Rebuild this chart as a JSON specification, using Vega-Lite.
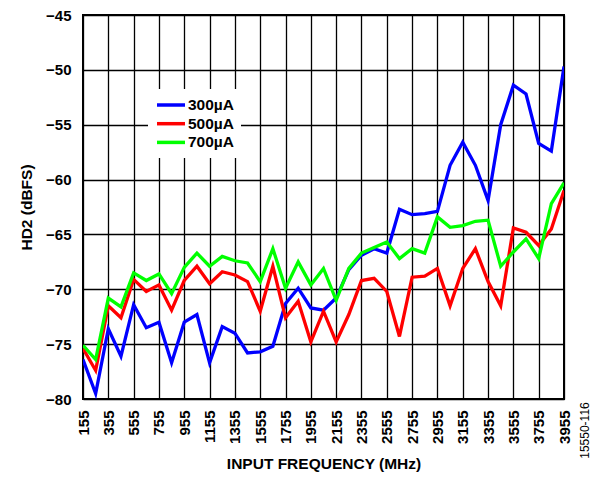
{
  "$schema": "https://vega.github.io/schema/vega-lite/v6.json",
  "width": 481,
  "height": 384,
  "autosize": "none",
  "padding": {"left": 83, "top": 15, "right": 31, "bottom": 78},
  "background": "white",
  "config": {
    "font": "Liberation Sans",
    "view": {"stroke": "black", "strokeWidth": 2},
    "axis": {"labelFont": "Liberation Sans", "titleFont": "Liberation Sans", "labelFontWeight": "bold", "titleFontWeight": "bold", "labelColor": "black", "titleColor": "black"}
  },
  "data": {"values": [
    {"f":155,"s":"300µA","v":-76.4},{"f":255,"s":"300µA","v":-79.5},{"f":355,"s":"300µA","v":-73.6},{"f":455,"s":"300µA","v":-76.1},{"f":555,"s":"300µA","v":-71.4},{"f":655,"s":"300µA","v":-73.5},{"f":755,"s":"300µA","v":-73.0},{"f":855,"s":"300µA","v":-76.7},{"f":955,"s":"300µA","v":-73.0},{"f":1055,"s":"300µA","v":-72.3},
    {"f":1155,"s":"300µA","v":-76.7},{"f":1255,"s":"300µA","v":-73.4},{"f":1355,"s":"300µA","v":-74.0},{"f":1455,"s":"300µA","v":-75.8},{"f":1555,"s":"300µA","v":-75.7},{"f":1655,"s":"300µA","v":-75.2},{"f":1755,"s":"300µA","v":-71.3},{"f":1855,"s":"300µA","v":-69.9},{"f":1955,"s":"300µA","v":-71.7},{"f":2055,"s":"300µA","v":-71.9},
    {"f":2155,"s":"300µA","v":-70.8},{"f":2255,"s":"300µA","v":-68.2},{"f":2355,"s":"300µA","v":-66.9},{"f":2455,"s":"300µA","v":-66.3},{"f":2555,"s":"300µA","v":-66.7},{"f":2655,"s":"300µA","v":-62.7},{"f":2755,"s":"300µA","v":-63.2},{"f":2855,"s":"300µA","v":-63.1},{"f":2955,"s":"300µA","v":-62.9},{"f":3055,"s":"300µA","v":-58.7},
    {"f":3155,"s":"300µA","v":-56.6},{"f":3255,"s":"300µA","v":-58.7},{"f":3355,"s":"300µA","v":-61.9},{"f":3455,"s":"300µA","v":-55.0},{"f":3555,"s":"300µA","v":-51.4},{"f":3655,"s":"300µA","v":-52.2},{"f":3755,"s":"300µA","v":-56.7},{"f":3855,"s":"300µA","v":-57.4},{"f":3955,"s":"300µA","v":-49.7},
    {"f":155,"s":"500µA","v":-75.4},{"f":255,"s":"500µA","v":-77.4},{"f":355,"s":"500µA","v":-71.5},{"f":455,"s":"500µA","v":-72.6},{"f":555,"s":"500µA","v":-69.1},{"f":655,"s":"500µA","v":-70.2},{"f":755,"s":"500µA","v":-69.6},{"f":855,"s":"500µA","v":-71.9},{"f":955,"s":"500µA","v":-69.2},{"f":1055,"s":"500µA","v":-67.9},
    {"f":1155,"s":"500µA","v":-69.5},{"f":1255,"s":"500µA","v":-68.4},{"f":1355,"s":"500µA","v":-68.7},{"f":1455,"s":"500µA","v":-69.3},{"f":1555,"s":"500µA","v":-72.0},{"f":1655,"s":"500µA","v":-67.9},{"f":1755,"s":"500µA","v":-72.6},{"f":1855,"s":"500µA","v":-71.1},{"f":1955,"s":"500µA","v":-74.8},{"f":2055,"s":"500µA","v":-72.0},
    {"f":2155,"s":"500µA","v":-74.8},{"f":2255,"s":"500µA","v":-72.3},{"f":2355,"s":"500µA","v":-69.2},{"f":2455,"s":"500µA","v":-69.0},{"f":2555,"s":"500µA","v":-70.2},{"f":2655,"s":"500µA","v":-74.3},{"f":2755,"s":"500µA","v":-68.9},{"f":2855,"s":"500µA","v":-68.8},{"f":2955,"s":"500µA","v":-68.1},{"f":3055,"s":"500µA","v":-71.5},
    {"f":3155,"s":"500µA","v":-68.1},{"f":3255,"s":"500µA","v":-66.3},{"f":3355,"s":"500µA","v":-69.3},{"f":3455,"s":"500µA","v":-71.5},{"f":3555,"s":"500µA","v":-64.4},{"f":3655,"s":"500µA","v":-64.8},{"f":3755,"s":"500µA","v":-66.0},{"f":3855,"s":"500µA","v":-64.5},{"f":3955,"s":"500µA","v":-61.0},
    {"f":155,"s":"700µA","v":-75.1},{"f":255,"s":"700µA","v":-76.4},{"f":355,"s":"700µA","v":-70.8},{"f":455,"s":"700µA","v":-71.6},{"f":555,"s":"700µA","v":-68.5},{"f":655,"s":"700µA","v":-69.2},{"f":755,"s":"700µA","v":-68.6},{"f":855,"s":"700µA","v":-70.4},{"f":955,"s":"700µA","v":-68.0},{"f":1055,"s":"700µA","v":-66.7},
    {"f":1155,"s":"700µA","v":-67.9},{"f":1255,"s":"700µA","v":-67.0},{"f":1355,"s":"700µA","v":-67.4},{"f":1455,"s":"700µA","v":-67.6},{"f":1555,"s":"700µA","v":-69.3},{"f":1655,"s":"700µA","v":-66.3},{"f":1755,"s":"700µA","v":-69.9},{"f":1855,"s":"700µA","v":-67.5},{"f":1955,"s":"700µA","v":-69.6},{"f":2055,"s":"700µA","v":-68.1},
    {"f":2155,"s":"700µA","v":-71.0},{"f":2255,"s":"700µA","v":-68.1},{"f":2355,"s":"700µA","v":-66.7},{"f":2455,"s":"700µA","v":-66.2},{"f":2555,"s":"700µA","v":-65.7},{"f":2655,"s":"700µA","v":-67.2},{"f":2755,"s":"700µA","v":-66.3},{"f":2855,"s":"700µA","v":-66.7},{"f":2955,"s":"700µA","v":-63.4},{"f":3055,"s":"700µA","v":-64.35},
    {"f":3155,"s":"700µA","v":-64.2},{"f":3255,"s":"700µA","v":-63.8},{"f":3355,"s":"700µA","v":-63.7},{"f":3455,"s":"700µA","v":-67.9},{"f":3555,"s":"700µA","v":-66.6},{"f":3655,"s":"700µA","v":-65.4},{"f":3755,"s":"700µA","v":-67.2},{"f":3855,"s":"700µA","v":-62.2},{"f":3955,"s":"700µA","v":-60.3}
  ]},
  "resolve": {"scale": {"y": "independent"}},
  "encoding": {
    "x": {
      "field": "f", "type": "quantitative",
      "scale": {"domain": [155, 3955], "nice": false, "zero": false},
      "axis": {
        "values": [155,355,555,755,955,1155,1355,1555,1755,1955,2155,2355,2555,2755,2955,3155,3355,3555,3755,3955],
        "format": "d", "labelAngle": -90, "labelFontSize": 15, "labelPadding": 11,
        "ticks": false, "domain": false, "grid": true, "gridColor": "black", "gridWidth": 1.3, "gridOpacity": 1,
        "title": "INPUT FREQUENCY (MHz)", "titleFontSize": 15.5, "titlePadding": 13,
        "labelBound": false, "labelOverlap": false
      }
    }
  },
  "layer": [
    {
      "mark": {"type": "line", "strokeWidth": 3.3, "clip": true},
      "encoding": {
        "y": {
          "field": "v", "type": "quantitative",
          "scale": {"domain": [-80, -45], "nice": false, "zero": false},
          "axis": {
            "values": [-80,-75,-70,-65,-60,-55,-50,-45],
            "labelFontSize": 15, "labelPadding": 12, "ticks": false, "domain": false,
            "grid": true, "gridColor": "black", "gridWidth": 1.3, "gridOpacity": 1,
            "title": "HD2 (dBFS)", "titleFontSize": 15.5, "titlePadding": 11,
            "labelOverlap": false
          }
        },
        "color": {
          "field": "s", "type": "nominal",
          "scale": {"domain": ["300µA","500µA","700µA"], "range": ["#0000FF","#FF0000","#00FF00"]},
          "legend": {
            "title": null, "orient": "none", "legendX": 65, "legendY": 74,
            "fillColor": "white", "padding": 7,
            "symbolType": "M-1,0H3", "symbolSize": 196, "symbolStrokeWidth": 3.5,
            "labelFont": "Liberation Sans", "labelFontWeight": "bold", "labelFontSize": 15.5, "labelColor": "black",
            "rowPadding": 0.7, "labelOffset": 15
          }
        }
      }
    },
    {
      "mark": {"type": "line", "opacity": 0},
      "encoding": {
        "y": {
          "field": "v", "type": "quantitative",
          "scale": {"domain": [-80, -45], "nice": false, "zero": false},
          "axis": {
            "orient": "right", "labels": false, "ticks": false, "domain": false, "grid": false,
            "title": "15550-116", "titleFontSize": 12, "titleFontWeight": "normal",
            "titleAngle": -90, "titleAlign": "center", "titleBaseline": "middle",
            "titleX": 20, "titleY": 415
          }
        },
        "detail": {"field": "s"}
      }
    }
  ]
}
